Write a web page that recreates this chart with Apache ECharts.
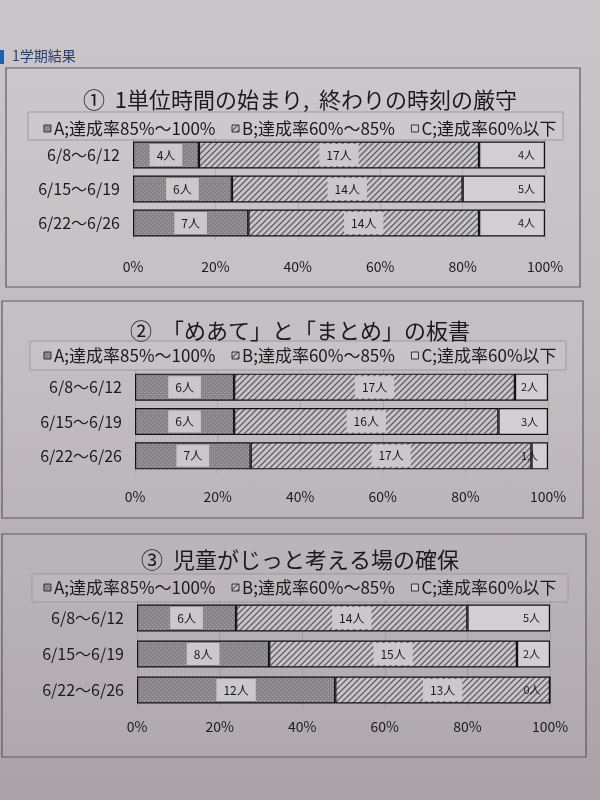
<!DOCTYPE html>
<html><head><meta charset="utf-8">
<script src="https://cdn.jsdelivr.net/npm/echarts@6/dist/echarts.min.js"></script>
<style>
html,body{margin:0;padding:0;width:600px;height:800px;background:linear-gradient(180deg,#cbc6ca 0%,#c0bbbf 45%,#a9a3a7 100%);}
#c{width:600px;height:800px;}
</style></head><body><div id="c"></div>
<script>
// ---- data ----
const categories = ['6/8～6/12', '6/15～6/19', '6/22～6/26'];
const seriesNames = ['A;達成率85%～100%', 'B;達成率60%～85%', 'C;達成率60%以下'];
const chartTitles = ['①  1単位時間の始まり,  終わりの時刻の厳守', '②  「めあて」と「まとめ」の板書', '③  児童がじっと考える場の確保'];
const chart1A = [4, 6, 7];
const chart1B = [17, 14, 14];
const chart1C = [4, 5, 4];
const chart2A = [6, 6, 7];
const chart2B = [17, 16, 17];
const chart2C = [2, 3, 1];
const chart3A = [6, 8, 12];
const chart3B = [14, 15, 13];
const chart3C = [5, 2, 0];
const tickLabels = ['0%', '20%', '40%', '60%', '80%', '100%'];
const headerText = '1学期結果';

const charts = [[chart1A, chart1B, chart1C], [chart2A, chart2B, chart2C], [chart3A, chart3B, chart3C]];
const total = chart1A[0] + chart1B[0] + chart1C[0];

// ---- patterns ----
function dotPattern() {
  const c = document.createElement('canvas'); c.width = 4; c.height = 4;
  const g = c.getContext('2d');
  g.fillStyle = '#868488'; g.fillRect(0, 0, 4, 4);
  g.fillStyle = '#aeacb0'; g.fillRect(0, 0, 1, 1); g.fillRect(2, 2, 1, 1);
  return c;
}
function hatchPattern() {
  const c = document.createElement('canvas'); c.width = 6; c.height = 6;
  const g = c.getContext('2d');
  g.fillStyle = '#c9c6ca'; g.fillRect(0, 0, 6, 6);
  g.strokeStyle = '#656367'; g.lineWidth = 1.4;
  g.beginPath();
  g.moveTo(-1, 7); g.lineTo(7, -1);
  g.moveTo(-1, 1); g.lineTo(1, -1);
  g.moveTo(5, 7); g.lineTo(7, 5);
  g.stroke();
  return c;
}
const fills = [
  { image: dotPattern(), repeat: 'repeat' },
  { image: hatchPattern(), repeat: 'repeat' },
  '#d2cfd3'
];

const FONT = '"Noto Sans CJK JP", "Noto Sans", sans-serif';

// layout per panel
const panels = [
  { rect: [6, 68, 574, 219], titleTop: 84, legendTop: 120, legendBox: [28, 112, 535, 28], grid: { top: 138, height: 102, left: 133, right: 55 }, labelMargin: 20 },
  { rect: [2, 301, 581, 217], titleTop: 315, legendTop: 347, legendBox: [30, 341, 536, 29], grid: { top: 370, height: 103, left: 135, right: 52 }, labelMargin: 17 },
  { rect: [2, 534, 584, 223], titleTop: 544, legendTop: 579, legendBox: [32, 574, 536, 28], grid: { top: 600, height: 108, left: 137, right: 50 }, labelMargin: 12 }
];

const grids = [], xAxes = [], yAxes = [], series = [], titles = [], legends = [], graphics = [];

graphics.push({ type: 'rect', shape: { x: 0, y: 50, width: 4, height: 14 }, style: { fill: '#1d5fb0' } });
graphics.push({ type: 'text', left: 12, top: 49, style: { text: headerText, font: '14px ' + FONT, fill: '#2a3f6a' } });

panels.forEach((p, i) => {
  graphics.push({ type: 'rect', shape: { x: p.rect[0], y: p.rect[1], width: p.rect[2], height: p.rect[3] }, style: { fill: 'rgba(255,255,255,0.05)', stroke: '#5e5a5e', lineWidth: 1.2 }, z: -1 });
  graphics.push({ type: 'rect', shape: { x: p.legendBox[0], y: p.legendBox[1], width: p.legendBox[2], height: p.legendBox[3] }, style: { fill: 'rgba(255,255,255,0.06)', stroke: '#9e999d', lineWidth: 1 }, z: -1 });
  titles.push({ text: chartTitles[i], left: 'center', top: p.titleTop, textStyle: { fontSize: 22, fontWeight: 'normal', color: '#1b1b1b', fontFamily: FONT } });
  legends.push({
    top: p.legendTop, left: 'center', padding: 0, itemGap: 16, itemWidth: 7, itemHeight: 7, icon: 'rect',
    data: seriesNames,
    itemStyle: { borderColor: '#333', borderWidth: 1 },
    textStyle: { fontSize: 17, color: '#1b1b1b', fontFamily: FONT, padding: [0, 0, 0, -2] },
    selectedMode: false
  });
  grids.push(Object.assign({}, p.grid));
  xAxes.push({
    type: 'value', gridIndex: i, min: 0, max: total, interval: total / 5,
    axisLine: { show: false }, axisTick: { show: false },
    splitLine: { show: true, lineStyle: { color: 'rgba(0,0,0,0.10)' } },
    axisLabel: { margin: p.labelMargin, fontSize: 14, color: '#1b1b1b', fontFamily: FONT, formatter: (v) => tickLabels[Math.round(v / (total / 5))] }
  });
  yAxes.push({
    type: 'category', gridIndex: i, data: categories, inverse: true,
    axisLine: { show: false }, axisTick: { show: false },
    axisLabel: { fontSize: 16, color: '#1b1b1b', margin: 13, fontFamily: FONT }
  });
  charts[i].forEach((vals, k) => {
    series.push({
      type: 'bar', name: seriesNames[k], stack: 'p' + i, xAxisIndex: i, yAxisIndex: i,
      data: vals, barWidth: 27,
      itemStyle: { color: fills[k], borderColor: '#111', borderWidth: 1.2 },
      label: {
        show: true, position: k === 2 ? 'insideRight' : 'inside', formatter: '{c}人',
        fontSize: k === 2 ? 11 : 12, color: '#1b1b1b', fontFamily: FONT,
        backgroundColor: k === 2 ? 'transparent' : '#cbc8cc',
        padding: k === 2 ? [2, 8, 2, 2] : [5, 7], distance: 2
      },
      emphasis: { disabled: true }, animation: false
    });
  });
});

const chart = echarts.init(document.getElementById('c'), null, { renderer: 'canvas' });
chart.setOption({
  animation: false,
  title: titles, legend: legends, grid: grids, xAxis: xAxes, yAxis: yAxes, series: series, graphic: graphics
});
</script></body></html>
